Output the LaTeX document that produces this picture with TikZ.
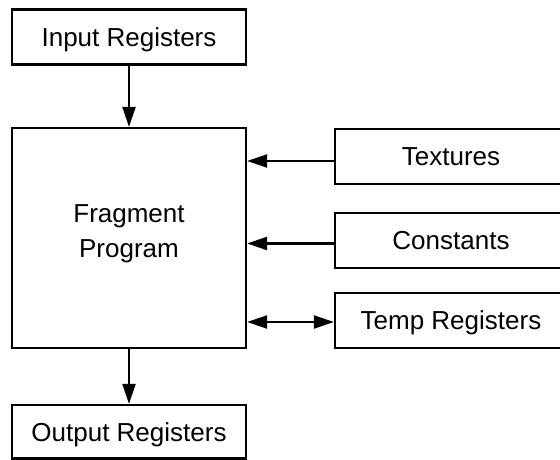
\documentclass[tikz,border=0pt]{standalone}
\usepackage{fontspec}
\setmainfont{Liberation Sans}
\usetikzlibrary{arrows.meta,calc}
\begin{document}
\begin{tikzpicture}[x=1pt,y=-1pt,
  box/.style={draw, line width=2.2pt, inner sep=0pt,
    minimum width=234pt, minimum height=55pt, text depth=0pt,
    font=\fontsize{26}{35}\selectfont},
  sidebox/.style={box, minimum width=232pt},
  caption/.style={align=center, inner sep=0pt,
    font=\fontsize{26}{35}\selectfont},
  tip/.tip={Triangle[length=20pt,width=13pt]},
  flow/.style={line width=2.2pt, -tip},
  both/.style={line width=2.2pt, tip-tip}]
  % white page
  \fill[white] (0,0) rectangle (560,460);
  \useasboundingbox (0,0) rectangle (560,460);

  % main column
  \node[box] (in) at (129,37) {Input Registers};
  \node[box, minimum height=220pt] (frag) at (129,238) {};
  \node[caption] (fragtxt) at (129,234) {Fragment\\Program};
  \node[box, minimum height=53.5pt] (out) at (129,431.75) {Output Registers};

  % resources on the right
  \node[sidebox] (tex) at (451,156.5) {Textures};
  \node[sidebox] (const) at (451,240.5) {Constants};
  \node[sidebox] (temp) at (451,320.5) {Temp Registers};

  % connector start points
  \coordinate (texout) at ($(tex.west)+(0,4.5)$);
  \coordinate (constout) at ($(const.west)+(0,3)$);
  \coordinate (tempio) at ($(temp.west)+(0,1.5)$);

  % data flow
  \draw[flow] (in) -- (frag);
  \draw[flow] (frag) -- (out);
  \draw[flow] (texout) -- (frag.east |- texout);
  \draw[flow] (constout) -- (frag.east |- constout);
  \draw[both] (tempio) -- (frag.east |- tempio);
\end{tikzpicture}
\end{document}
